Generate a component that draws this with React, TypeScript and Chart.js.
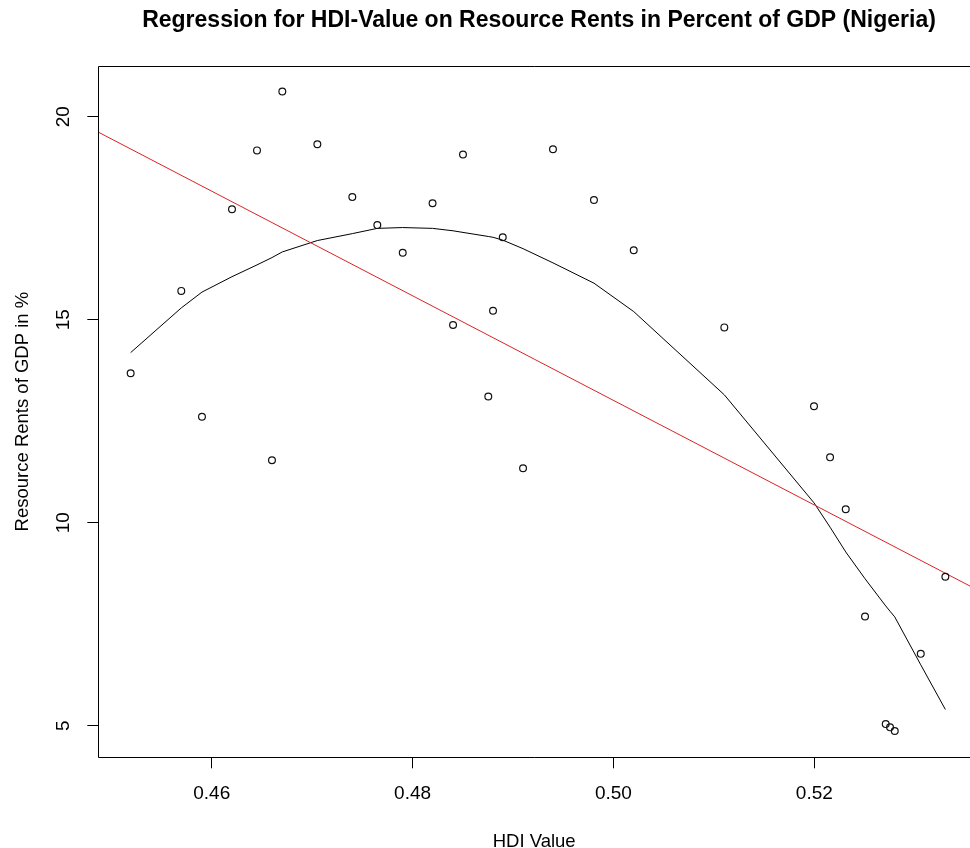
import React, { useEffect, useRef } from "react";
import { Chart, registerables } from "chart.js";

Chart.register(...registerables);

const TITLE = "Regression for HDI-Value on Resource Rents in Percent of GDP (Nigeria)";
const X_LABEL = "HDI Value";
const Y_LABEL = "Resource Rents of GDP in %";

// Observations (sorted by HDI value)
const hdiValues = [
  0.45193, 0.45697, 0.45903, 0.46202, 0.46451, 0.466, 0.46703, 0.47052, 0.474, 0.47649,
  0.47902, 0.48199, 0.48403, 0.48502, 0.48754, 0.48801, 0.48898, 0.491, 0.49398, 0.49806,
  0.50202, 0.51104, 0.51997, 0.52157, 0.52313, 0.52505, 0.52711, 0.52754, 0.52801, 0.5306,
  0.53305,
];
const resourceRents = [
  13.68, 15.71, 12.61, 17.72, 19.17, 11.54, 20.62, 19.32, 18.02, 17.33,
  16.65, 17.87, 14.87, 19.07, 13.11, 15.22, 17.03, 11.34, 19.2, 17.95,
  16.71, 14.81, 12.87, 11.61, 10.33, 7.69, 5.04, 4.96, 4.87, 6.77,
  8.67,
];
// Polynomial fit (black curve) read at each HDI value
const polyFitValues = [
  14.19, 15.29, 15.68, 16.06, 16.35, 16.53, 16.67, 16.95, 17.12, 17.25,
  17.27, 17.25, 17.19, 17.15, 17.05, 17.03, 16.96, 16.75, 16.4, 15.9,
  15.2, 13.15, 10.49, 9.89, 9.28, 8.62, 7.95, 7.82, 7.68, 6.5,
  5.4,
];
// Linear fit (red line) end points
const linearFitX = [0.448708, 0.535503];
const linearFitY = [19.62, 8.44];

const xTicks = [0.46, 0.48, 0.5, 0.52];
const yTicks = [5, 10, 15, 20];
const xRange = [0.448708, 0.535503];
const yRange = [4.222, 21.249];

const FONT = "'Liberation Sans', Arial, sans-serif";

const rPlotPlugin = {
  id: "rPlotFrame",
  afterDraw(chart: any) {
    const { ctx, chartArea: a, scales } = chart;
    ctx.save();
    ctx.strokeStyle = "#000";
    ctx.lineWidth = 1;
    const l = Math.round(a.left) + 0.5;
    const t = Math.round(a.top) + 0.5;
    const b = Math.round(a.bottom) + 0.5;
    ctx.beginPath();
    ctx.moveTo(chart.width, t);
    ctx.lineTo(l, t);
    ctx.lineTo(l, b);
    ctx.lineTo(chart.width, b);
    ctx.stroke();

    ctx.fillStyle = "#000";
    ctx.textAlign = "center";
    ctx.textBaseline = "middle";
    ctx.font = `19px ${FONT}`;
    for (const v of yTicks) {
      const y = scales.y.getPixelForValue(v);
      ctx.save();
      ctx.translate(63.5, y);
      ctx.rotate(-Math.PI / 2);
      ctx.fillText(String(v), 0, 0);
      ctx.restore();
    }

    ctx.font = `bold 23px ${FONT}`;
    ctx.fillText(TITLE, 539, 20.5);
    ctx.restore();
  },
};

export default function App() {
  const ref = useRef<HTMLCanvasElement | null>(null);

  useEffect(() => {
    if (!ref.current) return;
    const points = hdiValues.map((x, i) => ({ x, y: resourceRents[i] }));
    const curve = hdiValues.map((x, i) => ({ x, y: polyFitValues[i] }));
    const line = linearFitX.map((x, i) => ({ x, y: linearFitY[i] }));

    const chart = new Chart(ref.current, {
      type: "scatter",
      data: {
        datasets: [
          {
            label: "Observations",
            data: points,
            showLine: false,
            pointRadius: 3.4,
            pointBorderWidth: 1.2,
            pointBackgroundColor: "rgba(0,0,0,0)",
            pointBorderColor: "#111",
          },
          {
            label: "Linear fit",
            data: line,
            showLine: true,
            pointRadius: 0,
            borderColor: "#dd2222",
            borderWidth: 1,
            tension: 0,
          },
          {
            label: "Polynomial fit",
            data: curve,
            showLine: true,
            pointRadius: 0,
            borderColor: "#000",
            borderWidth: 1,
            tension: 0,
          },
        ],
      },
      options: {
        animation: false,
        responsive: false,
        devicePixelRatio: 1,
        layout: { autoPadding: false, padding: { top: 66, left: 0, right: 0, bottom: 0 } },
        plugins: {
          legend: { display: false },
          tooltip: { enabled: false },
          title: { display: false },
        },
        scales: {
          x: {
            type: "linear",
            position: "bottom",
            min: xRange[0],
            max: xRange[1],
            afterBuildTicks: (s: any) => {
              s.ticks = xTicks.map((v) => ({ value: v }));
            },
            afterFit: (s: any) => {
              s.height = 90.7;
            },
            border: { display: false },
            grid: {
              display: true,
              drawOnChartArea: false,
              drawTicks: true,
              tickLength: 11,
              tickColor: "#000",
              color: "#000",
              lineWidth: 1,
            },
            ticks: {
              autoSkip: false,
              maxRotation: 0,
              minRotation: 0,
              padding: 13.7,
              color: "#000",
              font: { family: FONT, size: 19 },
              callback: (v: any) => Number(v).toFixed(2),
            },
            title: {
              display: true,
              text: X_LABEL,
              color: "#000",
              font: { family: FONT, size: 18.5 },
              padding: { top: 0, bottom: -4.7 },
            },
          },
          y: {
            type: "linear",
            position: "left",
            min: yRange[0],
            max: yRange[1],
            afterBuildTicks: (s: any) => {
              s.ticks = yTicks.map((v) => ({ value: v }));
            },
            afterFit: (s: any) => {
              s.width = 98.3;
            },
            border: { display: false },
            grid: {
              display: true,
              drawOnChartArea: false,
              drawTicks: true,
              tickLength: 11,
              tickColor: "#000",
              color: "#000",
              lineWidth: 1,
            },
            ticks: { display: false },
            title: {
              display: true,
              text: Y_LABEL,
              color: "#000",
              font: { family: FONT, size: 18.5 },
              padding: { top: 12, bottom: 0 },
            },
          },
        },
      },
      plugins: [rPlotPlugin],
    });
    return () => chart.destroy();
  }, []);

  return (
    <div
      style={{
        position: "fixed",
        left: 0,
        top: 0,
        width: 970,
        height: 848,
        overflow: "hidden",
        background: "#fff",
      }}
    >
      <canvas ref={ref} width={970} height={848} style={{ display: "block" }} />
    </div>
  );
}
